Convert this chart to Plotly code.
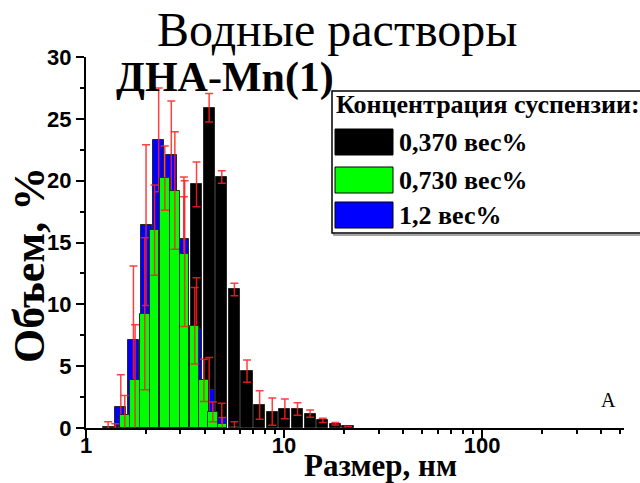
import numpy as np
import plotly.graph_objects as go

# ---------------- data ----------------
black_size = [2.696, 3.122, 3.615, 4.187, 4.849, 5.615, 6.503, 7.531, 8.721,
              10.10, 11.70, 13.54, 15.69, 18.17, 21.04]
black_val = [0.2, 12.1, 19.7, 25.9, 20.3, 11.2, 4.6, 1.86, 1.32,
             1.54, 1.54, 1.16, 0.62, 0.35, 0.13]
black_err = [0.6, 6.6, 1.8, 1.15, 0.5, 0.5, 0.9, 1.15, 1.1,
             0.8, 0.5, 0.3, 0.17, 0.1, 0.0]

blue_size = [1.294, 1.499, 1.736, 2.010, 2.328, 2.696, 3.122, 3.615, 4.187, 4.849, 5.615]
blue_val = [0.1, 1.7, 7.14, 16.4, 23.3, 22.1, 15.3, 8.0, 3.1, 0.8, 0.1]
blue_err = [0.4, 2.6, 5.95, 6.5, 4.2, 4.35, 5.0, 4.15, 2.6, 1.2, 0.4]

green_size = [1.405, 1.57, 1.77, 1.98, 2.22, 2.50, 2.81, 3.15, 3.54, 3.94, 4.37, 4.88]
green_val = [0.05, 1.02, 3.85, 9.24, 16.0, 20.2, 19.2, 14.1, 8.27, 3.85, 1.3, 0.35]
green_err = [0.3, 1.6, 4.5, 6.15, 3.65, 2.6, 4.75, 5.9, 3.1, 1.7, 0.8, 0.5]

series_names = ["0,370 вес%", "0,730 вес%", "1,2 вес%"]
series_colors = ["#000000", "#00ff00", "#0000ff"]

x_major = [1, 10, 100]
x_major_text = ["1", "10", "100"]
x_minor = [2, 3, 4, 5, 6, 7, 8, 9, 20, 30, 40, 50, 60, 70, 80, 90, 200, 300, 400, 500]
x_max = 521

title_text = "Водные растворы"
sub_text = "ДНА-Mn(1)"
legend_title = "Концентрация суспензии:"
x_title = "Размер, нм"
y_title = "Объем, %"

# ---------------- figure ----------------
W, H = 640, 483
L, R, T, B = 86, 16, 57, 55
pw, ph = W - L - R, H - T - B


def px(xp):
    return (xp - L) / pw


def py(yp):
    return (H - B - yp) / ph


err_style = dict(type="data", visible=True, color="rgba(255,30,30,0.85)",
                 thickness=1.5, width=4)

fig = go.Figure()
for size, val, err, col, wd in [
    (black_size, black_val, black_err, series_colors[0], 0.056),
    (blue_size, blue_val, blue_err, series_colors[2], 0.056),
    (green_size, green_val, green_err, series_colors[1], 0.048),
]:
    fig.add_trace(go.Bar(
        x=np.log10(size), y=val, width=wd,
        marker=dict(color=col, line=dict(color="rgba(40,40,40,1)", width=1)),
        error_y=dict(array=err, **err_style),
        showlegend=False,
    ))

font_serif = "Liberation Serif"
font_sans = "Liberation Sans"

fig.update_layout(
    width=W, height=H,
    margin=dict(l=L, r=R, t=T, b=B, autoexpand=False),
    paper_bgcolor="white", plot_bgcolor="white",
    barmode="overlay",
    bargap=0,
    showlegend=False,
    xaxis=dict(
        range=[0, np.log10(x_max)], automargin=False,
        tickmode="array", tickvals=np.log10(x_major), ticktext=x_major_text,
        ticks="outside", ticklen=8, tickwidth=2, tickcolor="black",
        ticklabelstandoff=-11,
        minor=dict(tickmode="array", tickvals=np.log10(x_minor), ticks="outside",
                   ticklen=4, tickwidth=2, tickcolor="black"),
        showline=True, linecolor="black", linewidth=2,
        showgrid=False, zeroline=False,
        tickfont=dict(family=font_sans, size=22, color="black", weight="bold"),
    ),
    yaxis=dict(
        range=[0, 30], automargin=False,
        tickmode="array", tickvals=[0, 5, 10, 15, 20, 25, 30],
        ticks="outside", ticklen=8, tickwidth=2, tickcolor="black",
        minor=dict(tickmode="array", tickvals=[2.5, 7.5, 12.5, 17.5, 22.5, 27.5],
                   ticks="outside", ticklen=4, tickwidth=2, tickcolor="black"),
        showline=True, linecolor="black", linewidth=2,
        showgrid=False, zeroline=False,
        tickfont=dict(family=font_sans, size=22, color="black", weight="bold"),
    ),
)

ann = []
ann.append(dict(text=title_text, x=px(337), y=py(29), xref="paper", yref="paper",
                showarrow=False, xanchor="center", yanchor="middle",
                font=dict(family=font_serif, size=48, color="black")))
ann.append(dict(text=sub_text, x=px(114), y=py(77), xref="paper", yref="paper",
                showarrow=False, xanchor="left", yanchor="middle",
                font=dict(family=font_serif, size=42, color="black", weight="bold")))
ann.append(dict(text="A", x=px(608), y=py(400), xref="paper", yref="paper",
                showarrow=False, xanchor="center", yanchor="middle",
                font=dict(family=font_serif, size=20, color="black")))
# axis titles
ann.append(dict(text=x_title, x=px(380), y=py(465), xref="paper", yref="paper",
                showarrow=False, xanchor="center", yanchor="middle",
                font=dict(family=font_serif, size=31, color="black", weight="bold")))
ann.append(dict(text=y_title, x=px(29), y=py(265), xref="paper", yref="paper",
                showarrow=False, xanchor="center", yanchor="middle", textangle=-90,
                font=dict(family=font_serif, size=44, color="black", weight="bold")))

shapes = []
# legend box (shadow + border)
shapes.append(dict(type="rect", xref="paper", yref="paper",
                   x0=px(334), x1=px(650), y0=py(235), y1=py(93),
                   line=dict(color="#888888", width=1.5), fillcolor="rgba(0,0,0,0)"))
shapes.append(dict(type="rect", xref="paper", yref="paper",
                   x0=px(332), x1=px(648), y0=py(233), y1=py(91),
                   line=dict(color="black", width=1.5), fillcolor="white"))
ann.append(dict(text=legend_title, x=px(334), y=py(104), xref="paper", yref="paper",
                showarrow=False, xanchor="left", yanchor="middle",
                font=dict(family=font_serif, size=26, color="black", weight="bold")))
item_y = [142, 180, 215]
for name, col, yc in zip(series_names, series_colors, item_y):
    shapes.append(dict(type="rect", xref="paper", yref="paper",
                       x0=px(335), x1=px(393), y0=py(yc + 13), y1=py(yc - 13),
                       line=dict(color="black", width=1), fillcolor=col))
    ann.append(dict(text=name, x=px(397), y=py(yc), xref="paper", yref="paper",
                    showarrow=False, xanchor="left", yanchor="middle",
                    font=dict(family=font_serif, size=26, color="black", weight="bold")))

fig.update_layout(annotations=ann, shapes=shapes)
fig.write_html("out.html")
